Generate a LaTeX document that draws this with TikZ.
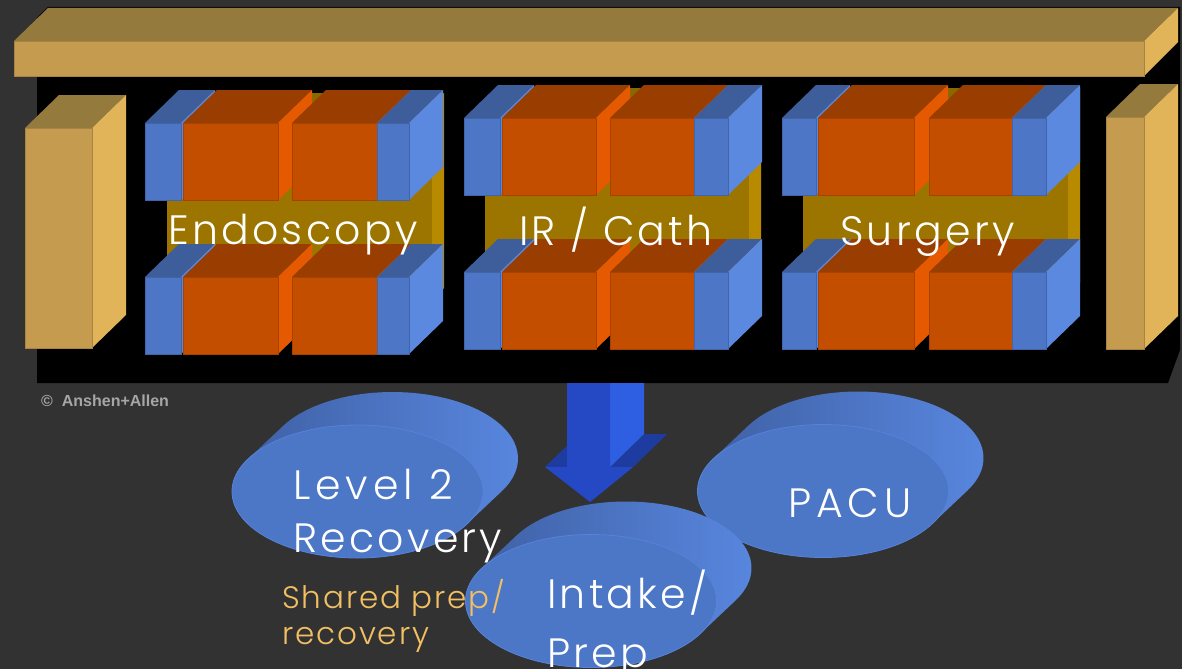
\documentclass[tikz,border=0pt]{standalone}
\usepackage{fontspec}
\IfFontExistsTF{Poppins Light}{\newfontfamily\gfont{Poppins Light}[LetterSpace=8]}{\newfontfamily\gfont{Poppins}[LetterSpace=8]}
\newfontfamily\cfont{Liberation Sans}
\definecolor{bg}{HTML}{323232}
\definecolor{tanF}{HTML}{C49B4F}
\definecolor{tanT}{HTML}{957A3E}
\definecolor{tanS}{HTML}{E2B45A}
\definecolor{orF}{HTML}{C44E00}
\definecolor{orT}{HTML}{9A3D00}
\definecolor{orS}{HTML}{E55A00}
\definecolor{blF}{HTML}{4E76C6}
\definecolor{blT}{HTML}{3E5D9B}
\definecolor{blS}{HTML}{5B89E0}
\definecolor{gdF}{HTML}{9C7500}
\definecolor{gdS}{HTML}{B88A00}
\definecolor{gdT}{HTML}{8A6800}
\definecolor{arF}{HTML}{2548C4}
\definecolor{arS}{HTML}{2E5EE2}
\definecolor{arT}{HTML}{1E3CA0}
\definecolor{dkF}{HTML}{4C76C6}
\definecolor{dkL}{HTML}{3E5FA2}
\definecolor{dkR}{HTML}{5886DE}
\definecolor{cream}{HTML}{F2C063}
\definecolor{copygray}{HTML}{A6A6A6}
\tikzset{
  tfront/.style={fill=tanF, draw=tanF!85!black, line width=0.6pt},
  ttop/.style={fill=tanT},
  tside/.style={fill=tanS},
  ofront/.style={fill=orF, draw=orF!85!black, line width=0.6pt},
  otop/.style={fill=orT},
  oside/.style={fill=orS},
  bfront/.style={fill=blF, draw=blF!85!black, line width=0.6pt},
  btop/.style={fill=blT},
  bside/.style={fill=blS},
  gfront/.style={fill=gdF},
  gside/.style={fill=gdS},
  gtop/.style={fill=gdT},
  afront/.style={fill=arF},
  aside/.style={fill=arS},
  atop/.style={fill=arT},
  diskside/.style={left color=dkL, right color=dkR},
  diskfront/.style={fill=dkF, draw=dkR!80!dkF, line width=0.8pt},
  lbl/.style={text=white, inner sep=0pt, anchor=base west, font=\gfont\fontsize{41}{45}\selectfont},
  widelbl/.style={lbl, font=\gfont\fontsize{41}{45}\selectfont\addfontfeature{LetterSpace=12}},
  sub/.style={text=cream, inner sep=0pt, anchor=base west, font=\gfont\fontsize{31}{35}\selectfont\addfontfeature{LetterSpace=6}},
  copyr/.style={text=copygray, inner sep=0pt, anchor=base west, font=\cfont\bfseries\fontsize{16}{18}\selectfont},
}
\newcommand\cuboid[7]{%
  \fill[#6] (#1,#2) -- (#1+34,#2-33) -- (#3+34,#2-33) -- (#3,#2) -- cycle;
  \fill[#7] (#3,#2) -- (#3+34,#2-33) -- (#3+34,#4-33) -- (#3,#4) -- cycle;
  \path[#5] (#1,#2) rectangle (#3,#4);
}
\newcommand\roomrow[7]{%
  \cuboid{#1}{#7}{#2}{#7+77}{bfront}{btop}{bside}
  \cuboid{#2+2}{#7}{#3}{#7+77}{ofront}{otop}{oside}
  \cuboid{#4}{#7}{#5}{#7+77}{ofront}{otop}{oside}
  \cuboid{#5}{#7}{#6}{#7+77}{bfront}{btop}{bside}
}
\newcommand\goldband[3]{%
  \fill[gside] (#2,#3) -- (#2+12,#3-12) -- (#2+12,#3+183) -- (#2,#3+195) -- cycle;
  \fill[gtop] (#1,#3) -- (#1+12,#3-12) -- (#2+12,#3-12) -- (#2,#3) -- cycle;
  \fill[gfront] (#1,#3) rectangle (#2,#3+195);
}
\newcommand\cluster[9]{%
  \goldband{#8}{#9}{#7-18}
  \roomrow{#1}{#2}{#3}{#4}{#5}{#6}{#7}
  \roomrow{#1}{#2}{#3}{#4}{#5}{#6}{#7+154}
}
\newcommand\disk[2]{%
  \shade[diskside] plot[domain=29.3:209.3,samples=60] ({#1+125.5*cos(\x)},{#2+66.5*sin(\x)})
    -- plot[domain=209.3:389.3,samples=60] ({#1+35+125.5*cos(\x)},{#2-33+66.5*sin(\x)}) -- cycle;
  \path[diskfront] (#1,#2) ellipse [x radius=125.5, y radius=66.5];
}
\begin{document}
\begin{tikzpicture}[x=1pt,y=-1pt]
\useasboundingbox (0,0) rectangle (1182,669);
\fill[bg] (0,0) rectangle (1182,669);
% black panel
\fill[black] (48,7) -- (1180,7) -- (1180,350) -- (1168,383) -- (37,383) -- (37,18) -- cycle;
% top bar
\fill[ttop] (14,41) -- (48,8) -- (1178,8) -- (1144,41) -- cycle;
\fill[tside] (1144,41) -- (1178,8) -- (1178,42) -- (1144,76) -- cycle;
\path[tfront] (14,41) rectangle (1144,76);
% pillars
\cuboid{25}{128}{92}{348}{tfront}{ttop}{tside}
\cuboid{1106}{117}{1144}{349}{tfront}{ttop}{tside}
% clusters
\cluster{145}{181}{278}{292}{377}{409}{123}{167}{432}
\cluster{464}{500}{596}{610}{694}{728}{118}{485}{749}
\cluster{782}{816}{914}{929}{1012}{1046}{118}{803}{1068}
\node[lbl] (endo) at (168,244) {Endoscopy};
\node[lbl] (ir) at (519,245) {IR / Cath};
\node[lbl] (surg) at (840,245) {Surgery};
\node[copyr] (copy) at (41,406) {©\ \ Anshen+Allen};
% disks
\disk{357.5}{491.5}
\disk{823}{491}
% arrow
\fill[atop] (545,467) -- (567,467) -- (601,434) -- (579,434) -- cycle;
\fill[atop] (610,467) -- (633,467) -- (667,434) -- (644,434) -- cycle;
\fill[aside] (610,383) -- (644,383) -- (644,434) -- (610,467) -- cycle;
\fill[atop] (633,467) -- (667,434) -- (624,469) -- (590,502) -- cycle;
\fill[afront] (567,383) -- (610,383) -- (610,467) -- (633,467) -- (590,502) -- (545,467) -- (567,467) -- cycle;
\disk{591}{601}
% texts
\node[widelbl] (l2a) at (293,499) {Level 2};
\node[lbl] (l2b) at (293,552) {Recovery};
\node[sub] (spa) at (282,608) {Shared prep/};
\node[sub] (spb) at (282,644) {recovery};
\node[lbl] (ina) at (547,608) {Intake/};
\node[lbl] (inb) at (547,667) {Prep};
\node[widelbl] (pacu) at (788,517) {PACU};
\end{tikzpicture}
\end{document}
